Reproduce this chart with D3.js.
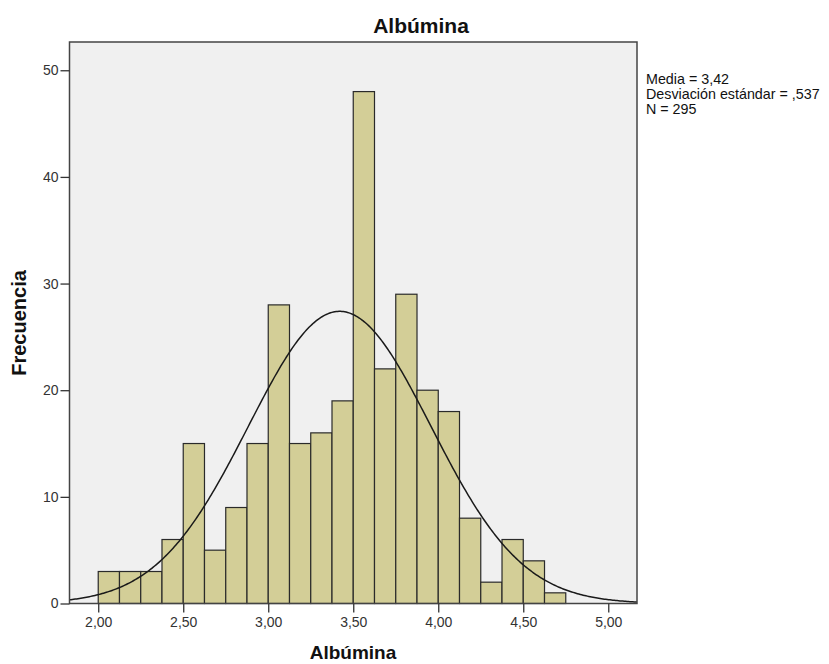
<!DOCTYPE html>
<html><head><meta charset="utf-8">
<script src="https://cdn.jsdelivr.net/npm/d3@7"></script>
<style>body{margin:0;background:#fff;} svg{display:block;font-family:"Liberation Sans",Arial,sans-serif;}</style>
</head><body>
<svg id="c" width="829" height="664"></svg>
<script>
const binStarts = [2.000,2.125,2.250,2.375,2.500,2.625,2.750,2.875,3.000,3.125,3.250,3.375,3.500,3.625,3.750,3.875,4.000,4.125,4.250,4.375,4.500,4.625];
const counts    = [3,3,3,6,15,5,9,15,28,15,16,19,48,22,29,20,18,8,2,6,4,1];
const binWidth = 0.125;
const xTicks = [2.0,2.5,3.0,3.5,4.0,4.5,5.0];
const yTicks = [0,10,20,30,40,50];
const stats = {mean:3.42, sd:0.537, n:295};
const legendLines = ["Media = 3,42","Desviación estándar = ,537","N = 295"];

const svg = d3.select("#c");
const L=69.5, R=637, T=42, B=603.5;
const x = d3.scaleLinear().domain([1.831,5.169]).range([L,R]);
const y = d3.scaleLinear().domain([0,52.65]).range([B,T]);

svg.append("rect").attr("x",L).attr("y",T).attr("width",R-L).attr("height",B-T).attr("fill","#f0f0f0");

svg.append("g").selectAll("rect").data(binStarts).join("rect")
  .attr("x",(d)=>x(d)).attr("width",(d)=>x(d+binWidth)-x(d))
  .attr("y",(d,i)=>y(counts[i])).attr("height",(d,i)=>y(0)-y(counts[i]))
  .attr("fill","#d3ce97").attr("stroke","#2a2a2a").attr("stroke-width",1.2);

const pdf = v => stats.n*binWidth/(stats.sd*Math.sqrt(2*Math.PI))*Math.exp(-0.5*((v-stats.mean)/stats.sd)**2);
const xs = d3.range(0,401).map(i=>1.831+(5.169-1.831)*i/400);
svg.append("path").datum(xs)
  .attr("d",d3.line().x(v=>x(v)).y(v=>y(pdf(v))).curve(d3.curveLinear))
  .attr("fill","none").attr("stroke","#1a1a1a").attr("stroke-width",1.5);

svg.append("rect").attr("x",L).attr("y",T).attr("width",R-L).attr("height",B-T)
  .attr("fill","none").attr("stroke","#444").attr("stroke-width",1.5);

const fmt = v => d3.format(".2f")(v).replace(".",",");
const xa = svg.append("g").attr("transform",`translate(0,${B})`)
  .call(d3.axisBottom(x).tickValues(xTicks).tickFormat(fmt).tickSize(9).tickPadding(5));
const ya = svg.append("g").attr("transform",`translate(${L},0)`)
  .call(d3.axisLeft(y).tickValues(yTicks).tickSize(9).tickPadding(2));
[xa,ya].forEach(g=>{
  g.select(".domain").remove();
  g.selectAll("line").attr("stroke","#333").attr("stroke-width",1.3);
  g.selectAll("text").attr("fill","#333").attr("font-size","14px").attr("font-family","Liberation Sans, Arial, sans-serif");
});

svg.append("text").attr("x",421).attr("y",33).attr("text-anchor","middle")
  .attr("font-weight","bold").attr("font-size","21px").attr("fill","#111").text("Albúmina");
svg.append("text").attr("x",353).attr("y",659).attr("text-anchor","middle")
  .attr("font-weight","bold").attr("font-size","19px").attr("fill","#111").text("Albúmina");
svg.append("text").attr("transform","translate(26,323) rotate(-90)").attr("text-anchor","middle")
  .attr("font-weight","bold").attr("font-size","20px").attr("fill","#111").text("Frecuencia");

svg.append("g").selectAll("text").data(legendLines).join("text")
  .attr("x",646).attr("y",(d,i)=>84+i*15).attr("font-size","14.3px").attr("fill","#111").text(d=>d);
</script>
</body></html>
